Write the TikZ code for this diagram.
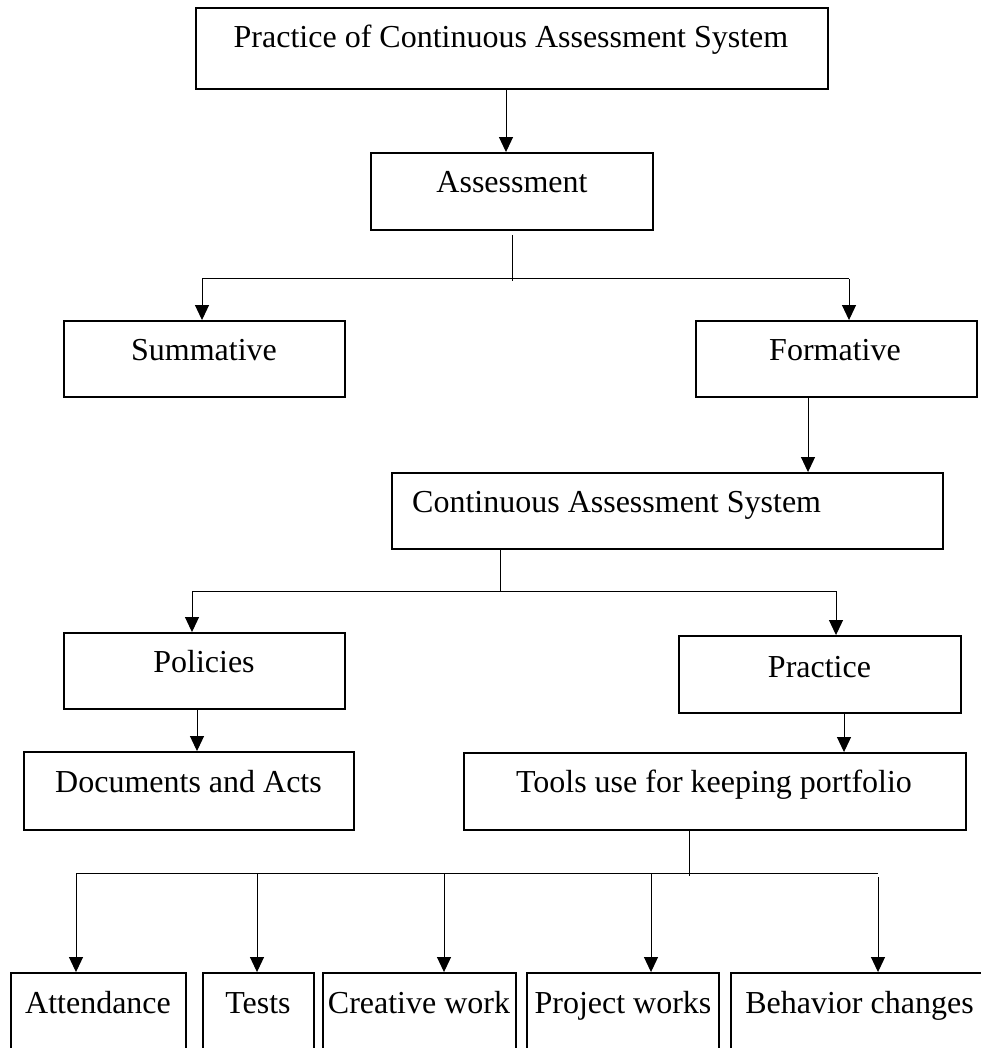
\documentclass[tikz,border=0pt]{standalone}
\usepackage{fontspec}
\setmainfont{Liberation Serif}
\usetikzlibrary{arrows.meta}
\begin{document}
\begin{tikzpicture}[x=1pt,y=-1pt,
  box/.style={draw, line width=1.9pt, inner sep=0pt},
  lbl/.style={anchor=base, inner sep=0pt, font=\fontsize{32}{38}\selectfont},
  arr/.style={line width=1pt, -{Triangle[length=15pt,width=14pt]}},
  ln/.style={line width=1pt}]
\clip (0,0) rectangle (981,1048);
\fill[white] (0,0) rectangle (981,1048);
% boxes
\node[box, minimum width=632pt, minimum height=81pt] (top)   at (512,48.5) {};
\node[box, minimum width=282pt, minimum height=77pt] (asm)   at (512,191.5) {};
\node[box, minimum width=281pt, minimum height=76pt] (sum)   at (204.5,359) {};
\node[box, minimum width=281pt, minimum height=76pt] (form)  at (836.5,359) {};
\node[box, minimum width=551pt, minimum height=76pt] (cas)   at (667.5,511) {};
\node[box, minimum width=281pt, minimum height=76pt] (pol)   at (204.5,671) {};
\node[box, minimum width=282pt, minimum height=77pt] (prac)  at (820,674.5) {};
\node[box, minimum width=330pt, minimum height=78pt] (docs)  at (189,791) {};
\node[box, minimum width=502pt, minimum height=77pt] (tools) at (715,791.5) {};
\node[box, minimum width=175pt, minimum height=97pt] (att)   at (98.5,1021.5) {};
\node[box, minimum width=111pt, minimum height=97pt] (tests) at (258.5,1021.5) {};
\node[box, minimum width=193pt, minimum height=97pt] (cre)   at (419.5,1021.5) {};
\node[box, minimum width=192pt, minimum height=97pt] (proj)  at (623,1021.5) {};
\node[box, minimum width=257pt, minimum height=97pt] (beh)   at (859.5,1021.5) {};
% labels
\node[lbl] (ttop)   at (511,48)  {Practice of Continuous Assessment System};
\node[lbl] (tasm)   at (512,193) {Assessment};
\node[lbl] (tsum)   at (204,360) {Summative};
\node[lbl] (tform)  at (835,360) {Formative};
\node[lbl, anchor=base west] (tcas) at (412,512) {Continuous Assessment System};
\node[lbl] (tpol)   at (204,672) {Policies};
\node[lbl] (tprac)  at (819.5,677) {Practice};
\node[lbl] (tdocs)  at (188.5,792) {Documents and Acts};
\node[lbl] (ttools) at (714,792) {Tools use for keeping portfolio};
\node[lbl] (tatt)   at (98,1013)  {Attendance};
\node[lbl] (ttests) at (258,1013) {Tests};
\node[lbl] (tcre)   at (419,1013) {Creative work};
\node[lbl] (tproj)  at (623,1013) {Project works};
\node[lbl] (tbeh)   at (859.5,1013) {Behavior changes};
% connectors
\draw[arr] ([xshift=-6pt]top.south) -- ([xshift=-6pt]top.south |- asm.north);
% tree 1
\coordinate (h1)  at (512,279);
\coordinate (h1l) at (202,279);
\coordinate (h1r) at (849,279);
\draw[ln] ([yshift=-4pt]asm.south) -- ([yshift=-2pt]h1);
\draw[ln] (h1l) -- (h1r);
\draw[arr] (h1l) -- (h1l |- sum.north);
\draw[arr] (h1r) -- (h1r |- form.north);
\draw[arr] ([xshift=-28.5pt]form.south) -- ([xshift=-28.5pt]form.south |- cas.north);
% tree 2
\coordinate (h2)  at (500,591);
\coordinate (h2l) at (192,591);
\coordinate (h2r) at (836,591);
\draw[ln] (cas.south -| h2) -- ([yshift=-1pt]h2);
\draw[ln] (h2l) -- (h2r);
\draw[arr] (h2l) -- (h2l |- pol.north);
\draw[arr] (h2r) -- (h2r |- prac.north);
\draw[arr] ([xshift=-7.5pt]pol.south) -- ([xshift=-7.5pt]pol.south |- docs.north);
\draw[arr] ([xshift=24pt]prac.south) -- ([xshift=24pt]prac.south |- tools.north);
% tree 3
\coordinate (h3)  at (689,873);
\coordinate (h3a) at (76,873);
\coordinate (h3b) at (257,873);
\coordinate (h3c) at (444,873);
\coordinate (h3d) at (651,873);
\coordinate (h3e) at (878,873);
\draw[ln] (tools.south -| h3) -- ([yshift=-3pt]h3);
\draw[ln] (h3a) -- (h3e);
\draw[arr] (h3a) -- (h3a |- att.north);
\draw[arr] (h3b) -- (h3b |- tests.north);
\draw[arr] (h3c) -- (h3c |- cre.north);
\draw[arr] (h3d) -- (h3d |- proj.north);
\draw[arr] ([yshift=-4pt]h3e) -- (h3e |- beh.north);
\end{tikzpicture}
\end{document}
